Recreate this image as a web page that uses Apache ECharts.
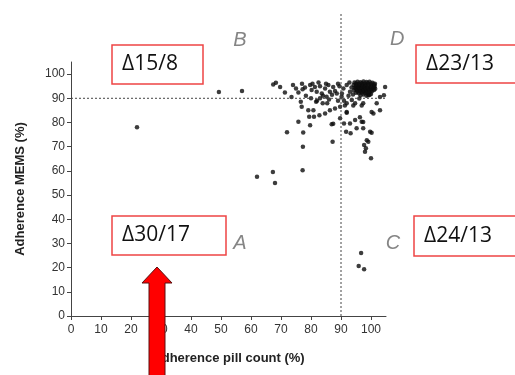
<!DOCTYPE html>
<html>
<head>
<meta charset="utf-8">
<script src="https://cdn.jsdelivr.net/npm/echarts@6/dist/echarts.min.js"></script>
<style>
  html, body { margin: 0; padding: 0; background: #fff; }
  #chart { width: 515px; height: 375px; }
</style>
</head>
<body>
<div id="chart"></div>
<script>
// tick labels
const xTicks = [0, 10, 20, 30, 40, 50, 60, 70, 80, 90, 100]
const yTicks = [0, 10, 20, 30, 40, 50, 60, 70, 80, 90, 100]
const cutoff = 90

// [pill count %, MEMS %]
const pointsLow = [
  [22, 78], [49.3, 92.6], [57, 93], [62, 57.6], [67.3, 59.5], [68, 55], [77.2, 60.3],
  [72, 76], [77.4, 75.9], [77.3, 70], [87.2, 72], [96.7, 26], [95.9, 20.7], [97.7, 19.3]
]
const pointsSpread = [
  [67.4, 95.7], [68.3, 96.4], [69.7, 94.7], [71.3, 92.4], [75.8, 92.4], [77.2, 93.7],
  [76.6, 88.6], [78.3, 91], [76.9, 86.5], [79.7, 95.5], [80.2, 93.4], [81.3, 94.7],
  [81.9, 92.7], [83, 95], [83.6, 92], [84.7, 94], [85.8, 95.5], [86.3, 92.7], [87.4, 94.7],
  [88.6, 92], [85.2, 90.6], [81.7, 88.6], [83.9, 87.9], [85.4, 87.9], [79.1, 85.1],
  [80.8, 85.1], [79.4, 82.4], [81, 82.4], [82.8, 83], [84.7, 83.7], [86.3, 85.1], [88, 85.8],
  [89.7, 86.5], [91.9, 84], [89.7, 81.7], [75.8, 80.3], [79.7, 78.9], [86.9, 79.3],
  [91, 79.6], [91.7, 76.2], [93.2, 75.5], [93, 79.6], [94.7, 81], [95.2, 77.6], [96.9, 80.3],
  [97.4, 77.6], [99.7, 76.2], [100.2, 75.8], [98.6, 72.7], [99.1, 72], [97.7, 70.7],
  [98.3, 69.3], [98, 67.9], [100, 65.2], [100.8, 83.7], [103, 85.1], [101.9, 87.9],
  [104.3, 91.3], [104.7, 94.7], [91.9, 87.9], [93.6, 89.3], [94.7, 87.9], [96.1, 89.9],
  [97.4, 87.9], [99.1, 91.3], [90.2, 90.6], [90.8, 94], [91.9, 95.5], [93, 92.7],
  [103, 90.5], [96.9, 87], [100.2, 84.3], [94.1, 87], [91.3, 87], [91.9, 84.3], [87.4, 79.5],
  [96.3, 82.2], [97.4, 80.2], [82, 89], [84, 91], [86, 89.5], [87, 91.5], [88, 93], [89, 89],
  [89.5, 95], [85, 96], [83, 90], [80, 90], [78, 94.5], [80.5, 96], [82.5, 96.5], [77, 96],
  [74, 95.5], [73.5, 90.5], [75, 94], [89, 96], [90.3, 92], [91, 89], [92.5, 91], [93.5, 94.5],
  [92.8, 96.5]
]
const pointsDense = [
  [94.5, 96.5], [95.5, 96.8], [96.5, 96.6], [97.5, 96.9], [98.5, 96.7], [99.5, 96.8], [100.5, 96.4], [101.3, 96],
  [94.2, 95.5], [95.2, 95.6], [96.2, 95.4], [97.2, 95.7], [98.2, 95.5], [99.2, 95.6], [100.2, 95.3], [101.2, 95.1],
  [94.6, 94.4], [95.6, 94.5], [96.6, 94.3], [97.6, 94.6], [98.6, 94.4], [99.6, 94.2], [100.6, 94.1], [101.4, 93.9],
  [94.3, 93.3], [95.3, 93.4], [96.3, 93.2], [97.3, 93.5], [98.3, 93.2], [99.3, 93.3], [100.3, 92.9],
  [95, 92.3], [96, 92.1], [97, 92.4], [98, 92.2], [99, 92], [100, 91.8], [96.5, 91.2], [98.5, 91], [94, 91.6],
  [95, 96.1], [96, 96], [97, 96.2], [98, 96.1], [99, 96.2], [100, 96], [101, 95.6],
  [95, 95], [96, 94.9], [97, 95.1], [98, 95], [99, 94.9], [100, 94.7], [101, 94.5],
  [95, 93.9], [96, 93.8], [97, 94], [98, 93.8], [99, 93.7], [100, 93.5], [101, 93.4],
  [95.5, 92.8], [96.5, 92.7], [97.5, 92.9], [98.5, 92.6], [99.5, 92.5], [97.5, 91.6], [99.5, 91.4]
]
// quadrant letters in data units
const quadrantLabels = [
  { name: 'B', value: [56.3, 114] },
  { name: 'D', value: [108.7, 114.5] },
  { name: 'A', value: [56.3, 29.8] },
  { name: 'C', value: [107.3, 30.2] }
]
const boxTexts = ['Δ15/8', 'Δ23/13', 'Δ30/17', 'Δ24/13']

const chart = echarts.init(document.getElementById('chart'))

const axisFont = { fontFamily: 'Liberation Sans, Arial, sans-serif', fontSize: 12, color: '#333' }
const nameFont = { fontFamily: 'Liberation Sans, Arial, sans-serif', fontSize: 13, fontWeight: 'bold', color: '#222' }
const refLine = { color: '#444', width: 1, type: [2, 2] }

function redBox(x, y, w, h, text) {
  return {
    type: 'group',
    z: 100,
    children: [
      { type: 'rect', shape: { x: x, y: y, width: w, height: h }, style: { fill: '#fff', stroke: '#ee4444', lineWidth: 1.5 } },
      { type: 'text', x: x + 10, y: y + h / 2, style: { text: text, fill: '#111', font: '21px "Open Sans", "Noto Sans", sans-serif', verticalAlign: 'middle' } }
    ]
  }
}

const option = {
  animation: false,
  backgroundColor: '#fff',
  grid: { left: 71, top: 62, width: 315, height: 254 },
  xAxis: {
    type: 'value',
    min: 0,
    max: 105,
    name: 'Adherence pill count (%)',
    nameLocation: 'middle',
    nameGap: 36,
    nameTextStyle: nameFont,
    splitLine: { show: false },
    axisLine: { lineStyle: { color: '#444', width: 1 } },
    axisTick: { customValues: xTicks, length: 4, lineStyle: { color: '#444' } },
    axisLabel: Object.assign({ customValues: xTicks, margin: 8 }, axisFont)
  },
  yAxis: {
    type: 'value',
    min: 0,
    max: 105,
    name: 'Adherence MEMS (%)',
    nameLocation: 'middle',
    nameGap: 44,
    nameTextStyle: nameFont,
    splitLine: { show: false },
    axisLine: { lineStyle: { color: '#444', width: 1 } },
    axisTick: { customValues: yTicks, length: 4, lineStyle: { color: '#444' } },
    axisLabel: Object.assign({ customValues: yTicks, margin: 6 }, axisFont)
  },
  series: [
    {
      type: 'line', clip: false, symbol: 'none', silent: true,
      data: [[0, cutoff], [120, cutoff]], lineStyle: refLine
    },
    {
      type: 'line', clip: false, symbol: 'none', silent: true,
      data: [[cutoff, 0], [cutoff, 125]], lineStyle: refLine
    },
    {
      type: 'scatter', symbolSize: 4.5, itemStyle: { color: '#0d0d0d' },
      data: pointsLow.concat(pointsSpread, pointsDense)
    },
    {
      type: 'scatter', clip: false, symbolSize: 0, silent: true,
      data: quadrantLabels,
      label: {
        show: true, position: 'inside', formatter: '{b}',
        fontFamily: 'Liberation Sans, Arial, sans-serif', fontSize: 20, fontStyle: 'italic', color: '#666'
      }
    }
  ],
  graphic: [
    redBox(112, 45, 91, 39, boxTexts[0]),
    redBox(416, 45, 110, 38, boxTexts[1]),
    redBox(112, 216, 114, 39, boxTexts[2]),
    redBox(414, 216, 110, 40, boxTexts[3]),
    {
      type: 'polygon', z: 110,
      shape: { points: [[157, 267], [142, 283], [149, 283], [149, 380], [165, 380], [165, 283], [172, 283]] },
      style: { fill: '#ff0000', stroke: '#5a1010', lineWidth: 1 }
    }
  ]
}

chart.setOption(option)
window.addEventListener('resize', () => chart.resize())
</script>
</body>
</html>
